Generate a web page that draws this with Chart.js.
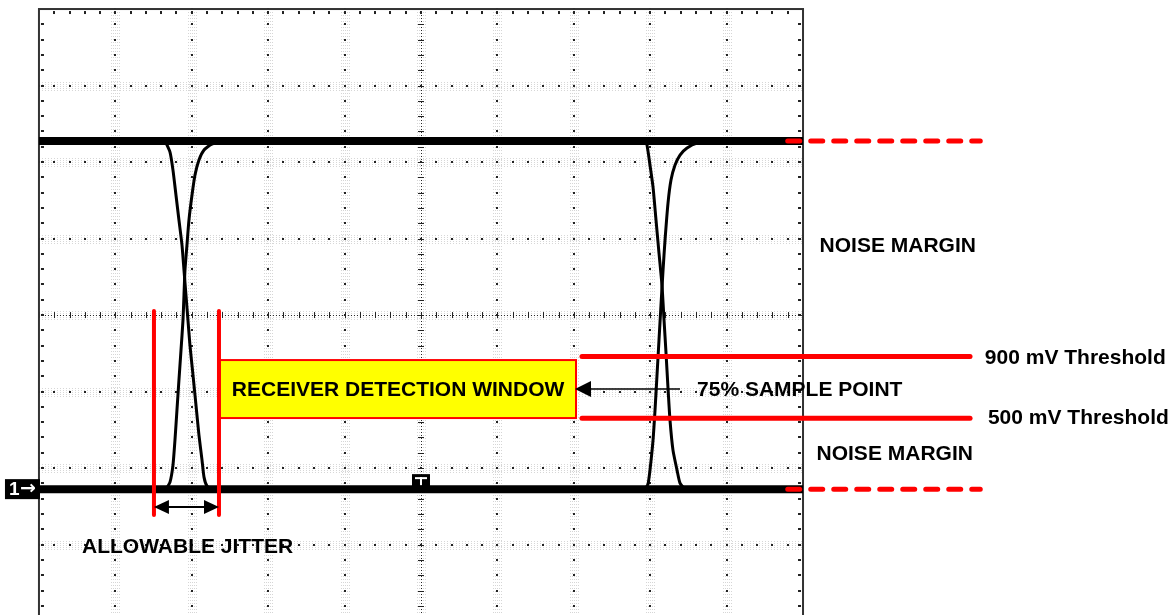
<!DOCTYPE html>
<html>
<head>
<meta charset="utf-8">
<script src="https://cdn.jsdelivr.net/npm/chart.js@4.4.0/dist/chart.umd.min.js"></script>
<style>
body { margin: 0; background: #fff; }
</style>
</head>
<body>
<canvas id="eye-chart" width="1169" height="615"></canvas>
<script>
// scope screen: 10 x 8 divisions, centre of screen is (5, 0)
// all values below are in screen divisions

// logic levels of the signal
const railHigh = 2.275;
const railLow = -2.275;
const railX = [0, 10];

// first crossing (falling edge from top, rising edge from bottom)
const fall1 = [[1.65, 2.275], [1.715, 2.13], [1.754, 1.895], [1.793, 1.569], [1.832, 1.242], [1.872, 0.915],
    [1.898, 0.588], [1.924, 0.261], [1.95, -0.065], [1.976, -0.392], [2.016, -0.784], [2.055, -1.176],
    [2.094, -1.569], [2.134, -1.895], [2.16, -2.118], [2.199, -2.235], [2.264, -2.275]];
const rise1 = [[1.662, -2.275], [1.715, -2.183], [1.754, -1.961], [1.78, -1.634], [1.806, -1.242], [1.832, -0.85],
    [1.859, -0.458], [1.885, -0.065], [1.898, 0.261], [1.911, 0.588], [1.937, 0.915], [1.963, 1.242],
    [2.003, 1.569], [2.042, 1.83], [2.094, 2.026], [2.16, 2.157], [2.264, 2.235], [2.435, 2.261], [2.6, 2.275]];

// second crossing
const fall2 = [[7.932, 2.275], [7.958, 2.222], [7.997, 1.961], [8.037, 1.673], [8.076, 1.242], [8.115, 0.81],
    [8.154, 0.392], [8.181, -0.065], [8.207, -0.497], [8.233, -0.954], [8.259, -1.373], [8.298, -1.765],
    [8.351, -2.026], [8.39, -2.196], [8.455, -2.275]];
const rise2 = [[7.932, -2.275], [7.971, -2.209], [7.997, -2.026], [8.037, -1.634], [8.063, -1.242], [8.089, -0.784],
    [8.115, -0.327], [8.141, 0.131], [8.168, 0.588], [8.194, 0.98], [8.233, 1.464], [8.272, 1.765],
    [8.325, 1.961], [8.39, 2.092], [8.482, 2.183], [8.613, 2.248], [8.809, 2.275]];

// receiver thresholds (900 mV, 500 mV)
const thresholdY = [-0.54, -1.35];
const thresholdX = [7.107, 12.186];

// red dashed extension of the rails
const extendX = [9.8, 12.32];

// allowable jitter limits
const jitterX = [1.505, 2.356];
const jitterY = [0.052, -2.614];

// receiver detection window
const windowX = [2.356, 7.029];
const windowY = [-0.588, -1.346];

const labelText = ["NOISE MARGIN", "NOISE MARGIN", "900 mV Threshold", "500 mV Threshold",
    "RECEIVER DETECTION WINDOW", "75% SAMPLE POINT", "ALLOWABLE JITTER"];

function pts(list) {
    return list.map(function (p) { return {x: p[0], y: p[1]}; });
}

function flat(xs, y) {
    return [{x: xs[0], y: y}, {x: xs[1], y: y}];
}

function arrowHead(ctx, x, y, dir, len, half) {
    ctx.beginPath();
    ctx.moveTo(x, y);
    ctx.lineTo(x - dir * len, y - half);
    ctx.lineTo(x - dir * len, y + half);
    ctx.closePath();
    ctx.fill();
}

// oscilloscope graticule + detection window, drawn below the traces
const screenPlugin = {
    id: "screen",
    beforeDatasetsDraw(chart) {
        const ctx = chart.ctx;
        const px = v => chart.scales.x.getPixelForValue(v);
        const py = v => chart.scales.y.getPixelForValue(v);
        ctx.save();

        // grey speckle along the division lines
        ctx.strokeStyle = "#d6d6d6";
        ctx.lineWidth = 1;
        ctx.setLineDash([1, 2]);
        for (let i = 1; i < 10; i++) {
            for (let o = -4; o <= 4; o += 2) {
                ctx.beginPath();
                ctx.moveTo(Math.round(px(i)) + o + 0.5, py(4));
                ctx.lineTo(Math.round(px(i)) + o + 0.5, py(-4));
                ctx.stroke();
            }
        }
        for (let j = -3; j <= 3; j++) {
            for (let o = -4; o <= 4; o += 2) {
                ctx.beginPath();
                ctx.moveTo(px(0), Math.round(py(j)) + o + 0.5);
                ctx.lineTo(px(10), Math.round(py(j)) + o + 0.5);
                ctx.stroke();
            }
        }
        ctx.setLineDash([]);

        // dots every 0.2 division on the major lines
        ctx.fillStyle = "#222";
        for (let i = 1; i < 10; i++) {
            if (i === 5) continue;
            for (let k = 0; k <= 40; k++) {
                ctx.fillRect(Math.round(px(i)) - 1, Math.round(py(-4 + k * 0.2)) - 1, 2, 2);
            }
        }
        for (let j = -3; j <= 3; j++) {
            if (j === 0) continue;
            for (let k = 0; k <= 50; k++) {
                ctx.fillRect(Math.round(px(k * 0.2)) - 1, Math.round(py(j)) - 1, 2, 2);
            }
        }

        // centre lines, finely dotted with small ticks
        ctx.strokeStyle = "#222";
        ctx.lineWidth = 1;
        ctx.setLineDash([1, 2]);
        ctx.beginPath();
        ctx.moveTo(px(0), Math.round(py(0)) + 0.5);
        ctx.lineTo(px(10), Math.round(py(0)) + 0.5);
        ctx.moveTo(Math.round(px(5)) + 0.5, py(4));
        ctx.lineTo(Math.round(px(5)) + 0.5, py(-4));
        ctx.stroke();
        ctx.setLineDash([]);
        ctx.beginPath();
        for (let k = 0; k <= 50; k++) {
            const x = Math.round(px(k * 0.2)) + 0.5;
            ctx.moveTo(x, py(0) - 3);
            ctx.lineTo(x, py(0) + 3);
        }
        for (let k = 0; k <= 40; k++) {
            const y = Math.round(py(-4 + k * 0.2)) + 0.5;
            ctx.moveTo(px(5) - 3, y);
            ctx.lineTo(px(5) + 3, y);
        }
        ctx.stroke();

        // ticks on the inside of the border
        for (let k = 1; k < 50; k++) {
            const x = Math.round(px(k * 0.2)) - 1;
            ctx.fillRect(x, py(4) + 2, 2, 3);
        }
        for (let k = 1; k < 40; k++) {
            const y = Math.round(py(-4 + k * 0.2)) - 1;
            ctx.fillRect(px(0) + 2, y, 3, 2);
            ctx.fillRect(px(10) - 5, y, 3, 2);
        }

        // border of the screen
        ctx.strokeStyle = "#333";
        ctx.lineWidth = 2;
        ctx.strokeRect(px(0), py(4), px(10) - px(0), py(-4) - py(4));

        // detection window
        ctx.fillStyle = "#ffff00";
        ctx.strokeStyle = "#ff0000";
        ctx.lineWidth = 2;
        ctx.fillRect(px(windowX[0]), py(windowY[0]), px(windowX[1]) - px(windowX[0]), py(windowY[1]) - py(windowY[0]));
        ctx.strokeRect(px(windowX[0]), py(windowY[0]), px(windowX[1]) - px(windowX[0]), py(windowY[1]) - py(windowY[0]));
        ctx.restore();
    },
    afterDatasetsDraw(chart) {
        const ctx = chart.ctx;
        const px = v => chart.scales.x.getPixelForValue(v);
        const py = v => chart.scales.y.getPixelForValue(v);
        ctx.save();
        ctx.fillStyle = "#000";
        ctx.strokeStyle = "#000";

        // sample point arrow into the window
        const ay = py((windowY[0] + windowY[1]) / 2);
        ctx.lineWidth = 1.5;
        ctx.beginPath();
        ctx.moveTo(px(8.39), ay);
        ctx.lineTo(px(windowX[1]) + 10, ay);
        ctx.stroke();
        arrowHead(ctx, px(windowX[1]) - 1, ay, -1, 16, 8);

        // jitter double arrow
        const jy = py(-2.51);
        ctx.lineWidth = 2;
        ctx.beginPath();
        ctx.moveTo(px(jitterX[0]) + 8, jy);
        ctx.lineTo(px(jitterX[1]) - 8, jy);
        ctx.stroke();
        arrowHead(ctx, px(jitterX[0]), jy, -1, 15, 7);
        arrowHead(ctx, px(jitterX[1]), jy, 1, 15, 7);

        // channel 1 ground marker
        const gy = py(railLow);
        ctx.fillRect(px(-0.445), gy - 10, px(0.013) - px(-0.445), 20);
        ctx.fillStyle = "#fff";
        ctx.textBaseline = "middle";
        ctx.textAlign = "left";
        ctx.font = "bold 19px 'Liberation Sans', Arial, sans-serif";
        ctx.fillText("1", px(-0.445) + 4, gy + 1);
        ctx.font = "bold 19px 'DejaVu Sans', sans-serif";
        ctx.fillText("\u2192", px(-0.445) + 15, gy);

        // trigger marker
        ctx.fillStyle = "#000";
        ctx.fillRect(px(5) - 9, gy - 15, 18, 14);
        ctx.fillStyle = "#fff";
        ctx.fillRect(px(5) - 6, gy - 12, 12, 2);
        ctx.fillRect(px(5) - 1, gy - 12, 2, 8);

        // texts
        ctx.fillStyle = "#000";
        ctx.font = "bold 21px 'Liberation Sans', Arial, sans-serif";
        ctx.textBaseline = "middle";
        const spots = [[11.24, 0.915, "center"], [11.2, -1.804, "center"], [12.38, -0.549, "left"],
            [12.42, -1.333, "left"], [4.7, -0.967, "center"], [8.613, -0.967, "left"], [0.563, -3.02, "left"]];
        for (let i = 0; i < labelText.length; i++) {
            ctx.textAlign = spots[i][2];
            ctx.fillText(labelText[i], px(spots[i][0]), py(spots[i][1]) + 1);
        }
        ctx.restore();
    }
};

// black traces sit under the red marks (higher order is drawn first)
function trace(data, width) {
    return {data: data, borderColor: "#000", borderWidth: width, pointRadius: 0, tension: 0.2, fill: false, order: 1};
}

function redLine(data, width, dash) {
    return {data: data, borderColor: "#ff0000", borderWidth: width, pointRadius: 0, fill: false,
        borderCapStyle: "round", borderDash: dash || [], order: 0};
}

new Chart("eye-chart", {
    type: "line",
    data: {
        datasets: [
            trace(flat(railX, railHigh), 8),
            trace(flat(railX, railLow), 8),
            trace(pts(fall1), 3),
            trace(pts(rise1), 3),
            trace(pts(fall2), 3),
            trace(pts(rise2), 3),
            redLine(flat(extendX, railHigh), 5, [12, 11]),
            redLine(flat(extendX, railLow), 5, [12, 11]),
            redLine(flat(thresholdX, thresholdY[0]), 5),
            redLine(flat(thresholdX, thresholdY[1]), 5),
            redLine([{x: jitterX[0], y: jitterY[0]}, {x: jitterX[0], y: jitterY[1]}], 4),
            redLine([{x: jitterX[1], y: jitterY[0]}, {x: jitterX[1], y: jitterY[1]}], 4)
        ]
    },
    options: {
        responsive: false,
        animation: false,
        layout: {padding: 0},
        plugins: {legend: {display: false}, tooltip: {enabled: false}},
        scales: {
            x: {type: "linear", min: -0.51, max: 14.79, display: false},
            y: {type: "linear", min: -3.92, max: 4.118, display: false}
        }
    },
    plugins: [screenPlugin]
});
</script>
</body>
</html>
